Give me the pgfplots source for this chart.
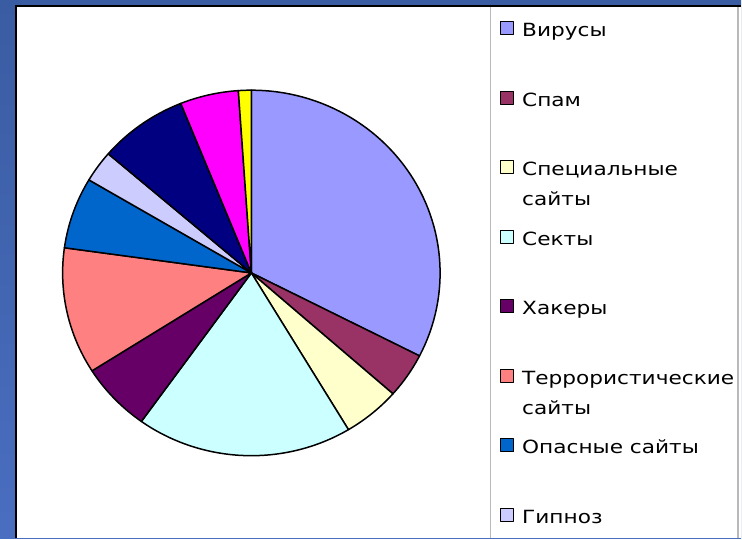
\documentclass[border=0pt]{standalone}
\usepackage{fontspec}
\setmainfont{DejaVu Sans}
\newfontfamily\legfont[FakeStretch=1.19]{DejaVu Sans}
\usepackage{pgfplots}
\pgfplotsset{compat=1.18}
\definecolor{cVir}{HTML}{9999FF}
\definecolor{cSpam}{HTML}{993366}
\definecolor{cSpec}{HTML}{FFFFCC}
\definecolor{cSekt}{HTML}{CCFFFF}
\definecolor{cHak}{HTML}{660066}
\definecolor{cTer}{HTML}{FF8080}
\definecolor{cOpas}{HTML}{0066CC}
\definecolor{cGip}{HTML}{CCCCFF}
\definecolor{cNavy}{HTML}{000080}
\definecolor{cMag}{HTML}{FF00FF}
\definecolor{cYel}{HTML}{FFFF00}
\definecolor{bgTop}{RGB}{58,92,162}
\definecolor{bgBot}{RGB}{74,110,192}
\newcommand\one[1]{\begin{tabular}[t]{@{}l@{}}#1\end{tabular}}
\newcommand\two[2]{\begin{tabular}[t]{@{}l@{}}#1\\#2\end{tabular}}
\begin{document}
\begin{tikzpicture}
\shade[top color=bgTop, bottom color=bgBot] (0,0) rectangle (371pt,269.5pt);
\fill[white] (8pt,0pt) rectangle (371pt,266.5pt);
\draw[gray!55, line width=0.6pt] (245.5pt,0pt) -- (245.5pt,266.5pt);
\draw[gray!55, line width=0.6pt] (369.5pt,0pt) -- (369.5pt,266.5pt);
\draw[black, line width=1pt] (8pt,0pt) -- (8pt,266.5pt) -- (371pt,266.5pt);
\begin{axis}[
  at={(125.85pt,132.85pt)}, anchor=origin,
  x=94.5pt, y=91.5pt,
  xmin=-1.05, xmax=1.05, ymin=-1.05, ymax=1.05,
  enlargelimits=false, clip=false, hide axis,
  legend image code/.code={\draw[#1, line width=0.5pt] (0pt,-3.4pt) rectangle (6.5pt,3.1pt);},
  legend style={at={(1.1274,1.1795)}, anchor=north west, draw=none, fill=none,
    inner sep=0pt, outer sep=0pt, row sep=18.9pt, column sep=2.1pt,
    font=\legfont\fontsize{9.1}{14.85}\selectfont,
    cells={anchor=west}},
  legend entries={\one{Вирусы}, \one{Спам}, \two{Специальные}{сайты}, \one{Секты},
    \one{Хакеры}, \two{Террористические}{сайты}, \one{Опасные сайты}, \one{Гипноз}},
]
\gdef\cum{0}
\foreach \v/\c/\f in {32.5/cVir/forget plot=false, 4.0/cSpam/forget plot=false,
  4.9/cSpec/forget plot=false, 18.5/cSekt/forget plot=false,
  6.1/cHak/forget plot=false, 11.2/cTer/forget plot=false,
  6.3/cOpas/forget plot=false, 2.8/cGip/forget plot=false,
  7.6/cNavy/forget plot, 5.0/cMag/forget plot, 1.1/cYel/forget plot}{
  \pgfmathsetmacro\sa{90-3.6*\cum}
  \pgfmathsetmacro\newcum{\cum+\v}
  \global\let\cum\newcum
  \pgfmathsetmacro\ea{90-3.6*\cum}
  \edef\tmp{\noexpand\addplot[fill=\c, draw=black, line width=0.75pt, line join=round,
    domain=\ea:\sa, samples=60, variable=\noexpand\t, \f]
    ({cos(\noexpand\t)},{sin(\noexpand\t)}) -- (axis cs:0,0) -- cycle;}
  \tmp
}
\end{axis}
\end{tikzpicture}
\end{document}
